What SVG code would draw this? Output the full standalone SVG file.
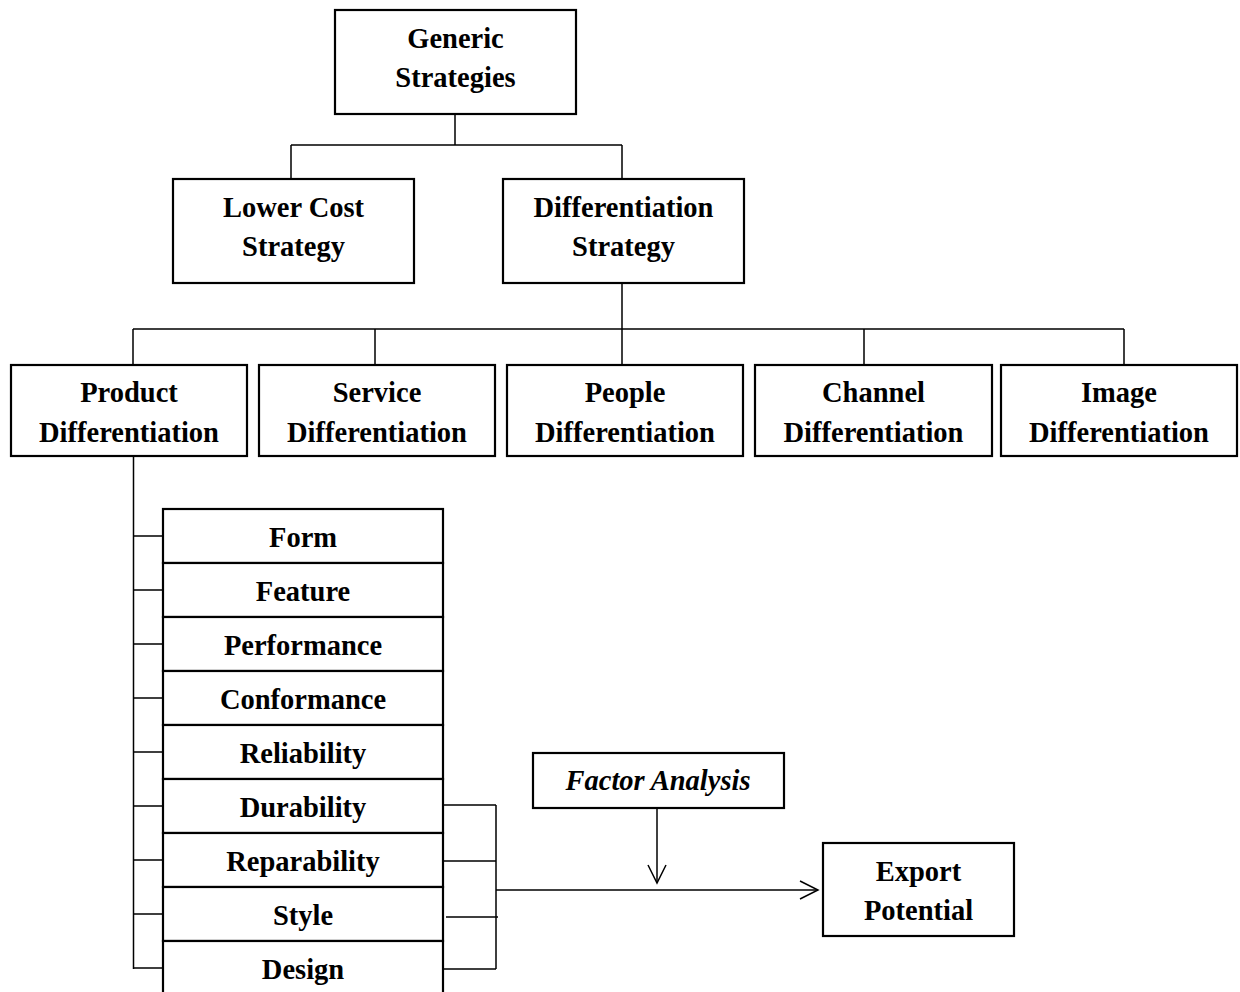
<svg xmlns="http://www.w3.org/2000/svg" width="1240" height="992" viewBox="0 0 1240 992">
<style>
.box{fill:#fff;stroke:#000;stroke-width:2.2}
.ln{fill:none;stroke:#000;stroke-width:1.5}
text{font-family:"Liberation Serif","Times New Roman",serif;font-weight:bold;font-size:28.5px;fill:#000;text-anchor:middle}
.it{font-style:italic}
</style>
<defs>
<marker id="arr" markerUnits="userSpaceOnUse" markerWidth="22" markerHeight="22" viewBox="0 0 22 22" refX="20" refY="11" orient="auto">
<path d="M2,2 L20,11 L2,20" fill="none" stroke="#000" stroke-width="1.5"/>
</marker>
</defs>
<rect width="1240" height="992" fill="#fff"/>
<g id="connectors">
<path class="ln" d="M455,114 V145 M291,145 H622 M291,145 V179 M622,145 V179"/>
<path class="ln" d="M622,283 V329 M133,329 H1124 M133,329 V365 M375,329 V365 M622,329 V365 M864,329 V365 M1124,329 V365"/>
<path class="ln" d="M133.5,456 V969"/>
<path class="ln" d="M133,536 H163 M133,590 H163 M133,644 H163 M133,698 H163 M133,752 H163 M133,806 H163 M133,860 H163 M133,914 H163 M133,968 H163"/>
<path class="ln" d="M443,805 H496 M443,861 H496 M446,917 H498 M443,969 H496 M496,805 V969"/>
<path class="ln" d="M496,890 H818" marker-end="url(#arr)"/>
<path class="ln" d="M657,808 V883" marker-end="url(#arr)"/>
</g>
<g id="generic"><rect class="box" x="335" y="10" width="241" height="104"/><text x="455.5" y="48">Generic</text><text x="455.5" y="87">Strategies</text></g>
<g id="lowercost"><rect class="box" x="173" y="179" width="241" height="104"/><text x="293.5" y="217">Lower Cost</text><text x="293.5" y="256">Strategy</text></g>
<g id="diffstrategy"><rect class="box" x="503" y="179" width="241" height="104"/><text x="623.5" y="217">Differentiation</text><text x="623.5" y="256">Strategy</text></g>
<g id="product"><rect class="box" x="11" y="365" width="236" height="91"/><text x="129" y="402">Product</text><text x="129" y="442">Differentiation</text></g>
<g id="service"><rect class="box" x="259" y="365" width="236" height="91"/><text x="377" y="402">Service</text><text x="377" y="442">Differentiation</text></g>
<g id="people"><rect class="box" x="507" y="365" width="236" height="91"/><text x="625" y="402">People</text><text x="625" y="442">Differentiation</text></g>
<g id="channel"><rect class="box" x="755" y="365" width="237" height="91"/><text x="873.5" y="402">Channel</text><text x="873.5" y="442">Differentiation</text></g>
<g id="image"><rect class="box" x="1001" y="365" width="236" height="91"/><text x="1119" y="402">Image</text><text x="1119" y="442">Differentiation</text></g>
<g id="form"><rect class="box" x="163" y="509" width="280" height="54"/><text x="303" y="547">Form</text></g>
<g id="feature"><rect class="box" x="163" y="563" width="280" height="54"/><text x="303" y="601">Feature</text></g>
<g id="performance"><rect class="box" x="163" y="617" width="280" height="54"/><text x="303" y="655">Performance</text></g>
<g id="conformance"><rect class="box" x="163" y="671" width="280" height="54"/><text x="303" y="709">Conformance</text></g>
<g id="reliability"><rect class="box" x="163" y="725" width="280" height="54"/><text x="303" y="763">Reliability</text></g>
<g id="durability"><rect class="box" x="163" y="779" width="280" height="54"/><text x="303" y="817">Durability</text></g>
<g id="reparability"><rect class="box" x="163" y="833" width="280" height="54"/><text x="303" y="871">Reparability</text></g>
<g id="style"><rect class="box" x="163" y="887" width="280" height="54"/><text x="303" y="925">Style</text></g>
<g id="design"><rect class="box" x="163" y="941" width="280" height="54"/><text x="303" y="979">Design</text></g>
<g id="factor"><rect class="box" x="533" y="753" width="251" height="55"/><text class="it" x="658" y="790">Factor Analysis</text></g>
<g id="export"><rect class="box" x="823" y="843" width="191" height="93"/><text x="918.5" y="881">Export</text><text x="918.5" y="920">Potential</text></g>
</svg>
